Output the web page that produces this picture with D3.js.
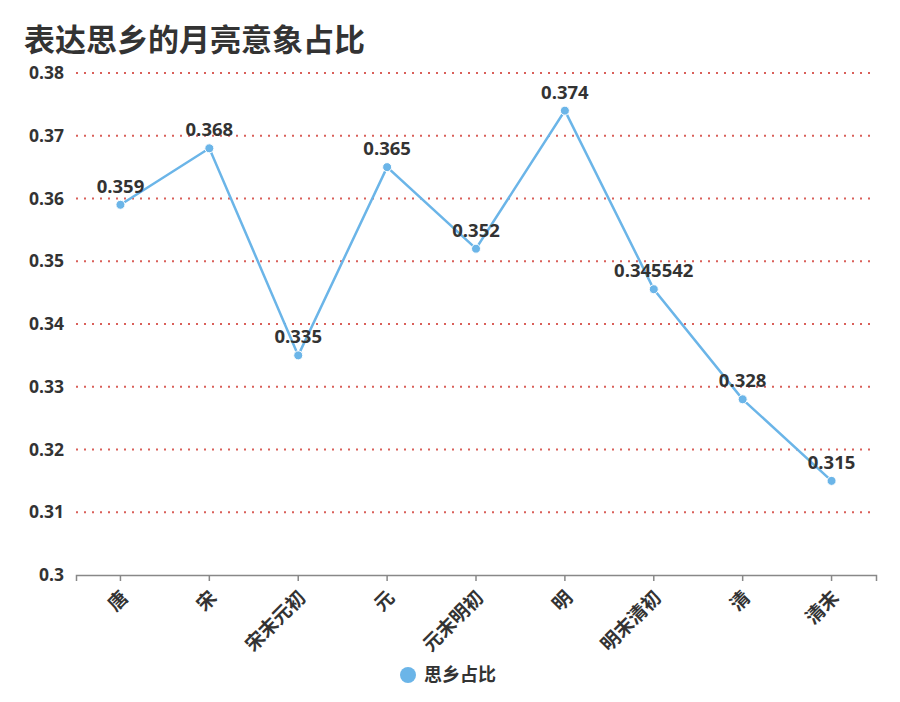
<!DOCTYPE html>
<html>
<head>
<meta charset="utf-8">
<script src="https://cdn.jsdelivr.net/npm/d3@7"></script>
<style>
  body { margin: 0; background: #fff; }
  svg { display: block; font-family: "Open Sans", "Noto Sans CJK SC", sans-serif; }
</style>
</head>
<body>
<script>
const dynasties = ["唐", "宋", "宋末元初", "元", "元末明初", "明", "明末清初", "清", "清末"]
const homesick = [0.359, 0.368, 0.335, 0.365, 0.352, 0.374, 0.345542, 0.328, 0.315]
const yTicks = [0.3, 0.31, 0.32, 0.33, 0.34, 0.35, 0.36, 0.37, 0.38]

const width = 900, height = 702
const margin = { top: 73, right: 24, bottom: 127, left: 76 }
const lineColor = "#6bb5e8"
const cjk = "'Noto Sans CJK SC', sans-serif"

const svg = d3.select("body").append("svg")
    .attr("width", width)
    .attr("height", height)

const x = d3.scaleBand()
    .domain(dynasties)
    .range([margin.left, width - margin.right])

const y = d3.scaleLinear()
    .domain([0.3, 0.38])
    .range([height - margin.bottom, margin.top])

svg.append("text")
    .attr("x", 24)
    .attr("y", 51)
    .attr("font-size", 31)
    .attr("font-weight", "bold")
    .attr("font-family", cjk)
    .attr("fill", "#333")
    .text("表达思乡的月亮意象占比")

// grid
svg.append("g")
    .selectAll("line")
    .data(yTicks.filter(d => d > 0.3))
    .join("line")
    .attr("x1", margin.left)
    .attr("x2", width - margin.right)
    .attr("y1", d => y(d))
    .attr("y2", d => y(d))
    .attr("stroke", "#d9605a")
    .attr("stroke-width", 2)
    .attr("stroke-dasharray", "2,6")

// y labels
svg.append("g")
    .selectAll("text")
    .data(yTicks)
    .join("text")
    .attr("x", 64)
    .attr("y", d => y(d))
    .attr("dy", "0.35em")
    .attr("text-anchor", "end")
    .attr("font-size", 17.5)
    .attr("font-weight", "bold")
    .attr("fill", "#333")
    .text(d => d === 0.3 ? "0.3" : d.toFixed(2))

// x axis
const xAxis = svg.append("g")
    .attr("transform", `translate(0,${height - margin.bottom})`)
    .call(d3.axisBottom(x).tickSizeOuter(0).tickSize(6))

xAxis.select(".domain").attr("stroke", "#888").attr("stroke-width", 1.5)
xAxis.selectAll(".tick line").attr("stroke", "#888").attr("stroke-width", 1.5)
xAxis.selectAll(".tick text")
    .attr("font-size", 19)
    .attr("font-weight", "bold")
    .attr("fill", "#333")
    .attr("font-family", cjk)
    .attr("text-anchor", "end")
    .attr("x", 0)
    .attr("y", 0)
    .attr("dy", "0.35em")
    .attr("transform", "translate(4,19) rotate(-45)")

const cx = d => x(d) + x.bandwidth() / 2
const pts = dynasties.map((d, i) => [cx(d), y(homesick[i])])

svg.append("path")
    .datum(pts)
    .attr("fill", "none")
    .attr("stroke", lineColor)
    .attr("stroke-width", 2.5)
    .attr("d", d3.line())

svg.append("g")
    .selectAll("circle")
    .data(pts)
    .join("circle")
    .attr("cx", d => d[0])
    .attr("cy", d => d[1])
    .attr("r", 4.5)
    .attr("fill", lineColor)
    .attr("stroke", "#fff")
    .attr("stroke-width", 1)

svg.append("g")
    .selectAll("text")
    .data(homesick)
    .join("text")
    .attr("x", (d, i) => pts[i][0])
    .attr("y", (d, i) => pts[i][1] - 12)
    .attr("text-anchor", "middle")
    .attr("font-size", 18.5)
    .attr("font-weight", "bold")
    .attr("fill", "#333")
    .text(d => d)

// legend
const legend = svg.append("g").attr("transform", "translate(408,675)")
legend.append("circle").attr("r", 8).attr("fill", lineColor)
legend.append("text")
    .attr("x", 16)
    .attr("dy", "0.36em")
    .attr("font-size", 18)
    .attr("font-weight", "bold")
    .attr("font-family", cjk)
    .attr("fill", "#333")
    .text("思乡占比")
</script>
</body>
</html>
